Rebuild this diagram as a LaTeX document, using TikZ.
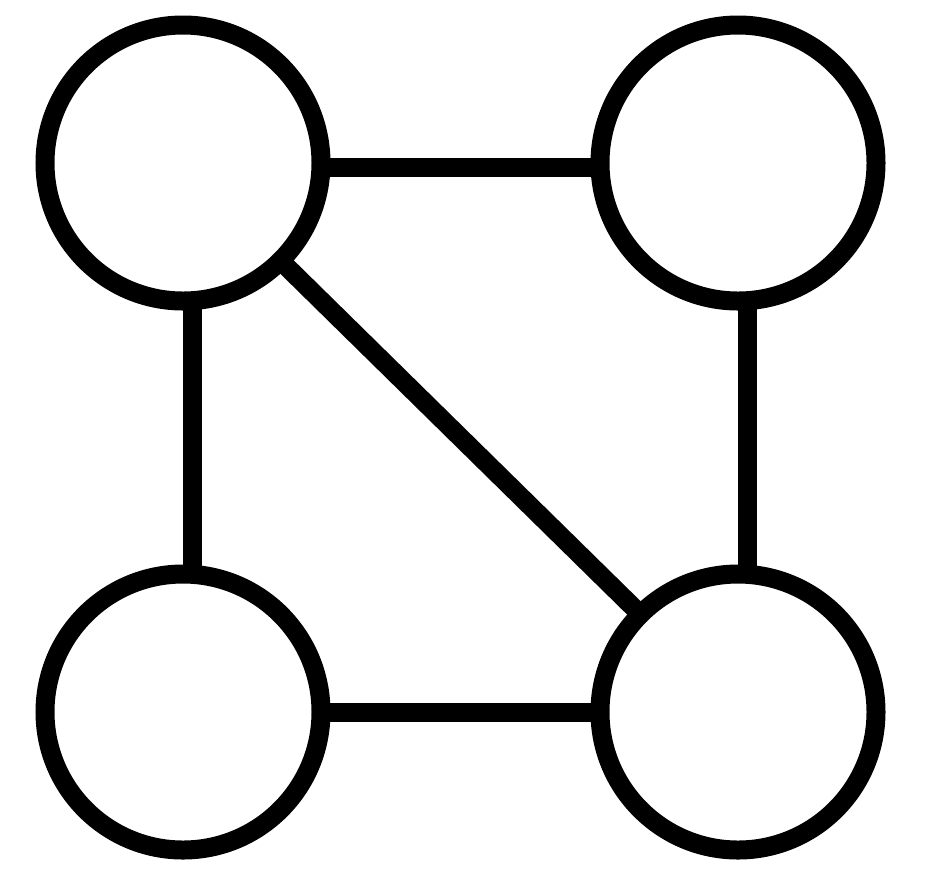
\documentclass[tikz,border=0pt]{standalone}
\begin{document}
\begin{tikzpicture}[x=0.5pt,y=-0.5pt,
  vertex/.style={circle,draw=black,line width=9.5pt,minimum size=138pt,inner sep=0pt,fill=white},
  edge/.style={line width=9.5pt,draw=black,shorten <=-3pt,shorten >=-3pt}]
\useasboundingbox (0,0) rectangle (926,880);
\fill[white] (0,0) rectangle (926,880);
\node[vertex] (a) at (183,163) {};
\node[vertex] (b) at (738,163) {};
\node[vertex] (c) at (183,712) {};
\node[vertex] (d) at (738,712) {};
\draw[edge] ([yshift=-2pt]a.east) -- ([yshift=-2pt]b.west);
\draw[edge] (c.east) -- (d.west);
\draw[edge] ([xshift=4.5pt]a.south) -- ([xshift=4.5pt]c.north);
\draw[edge] ([xshift=4.5pt]b.south) -- ([xshift=4.5pt]d.north);
\draw[edge] (a.-45) -- (d.135);
\end{tikzpicture}
\end{document}
